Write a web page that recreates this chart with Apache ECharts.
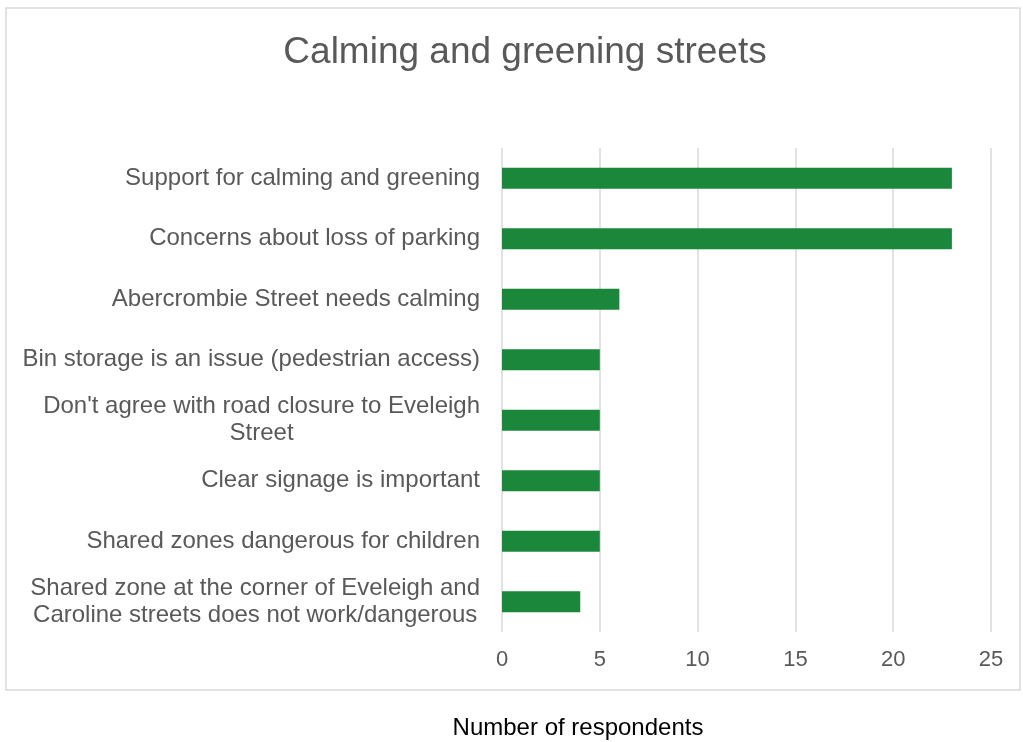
<!DOCTYPE html>
<html>
<head>
<meta charset="utf-8">
<script src="https://cdn.jsdelivr.net/npm/echarts@6/dist/echarts.min.js"></script>
<style>html,body{margin:0;padding:0;background:#fff;}#c{width:1023px;height:742px;}</style>
</head>
<body>
<div id="c"></div>
<script>
const categories = [
  "Support for calming and greening",
  "Concerns about loss of parking",
  "Abercrombie Street needs calming",
  "Bin storage is an issue (pedestrian access)",
  "Don't agree with road closure to Eveleigh Street",
  "Clear signage is important",
  "Shared zones dangerous for children",
  "Shared zone at the corner of Eveleigh and Caroline streets does not work/dangerous"
];
const values = [23, 23, 6, 5, 5, 5, 5, 4];
const xTicks = [0, 5, 10, 15, 20, 25];
const titleText = "Calming and greening streets";
const axisTitle = "Number of respondents";

const font = "'Liberation Sans', Arial, sans-serif";
const labelSize = 24;
const labelWidth = 466;
const ctx = document.createElement('canvas').getContext('2d');
ctx.font = labelSize + "px " + font;
function wrap(text) {
  const words = text.split(' ');
  const lines = [];
  let cur = '';
  for (const w of words) {
    const t = cur ? cur + ' ' + w : w;
    if (cur && ctx.measureText(t).width > labelWidth) { lines.push(cur); cur = w; }
    else cur = t;
  }
  if (cur) lines.push(cur);
  return lines.map(l => '{c|' + l + '}').join('\n');
}

const chart = echarts.init(document.getElementById('c'));
chart.setOption({
  backgroundColor: '#fff',
  animation: false,
  title: {
    text: titleText, left: 520, top: 29, textAlign: 'center',
    textStyle: {fontFamily: font, fontSize: 37, fontWeight: 'normal', color: '#595959'}
  },
  graphic: [
    {type: 'rect', shape: {x: 6, y: 8, width: 1014, height: 682}, style: {fill: 'none', stroke: '#d9d9d9', lineWidth: 1.5}, z: -1},
    {type: 'text', x: 578, y: 728, style: {text: axisTitle, fontFamily: font, fontSize: 24, fill: '#000', align: 'center', verticalAlign: 'middle'}}
  ],
  grid: {left: 502, right: 32, top: 148, bottom: 110, containLabel: false},
  xAxis: {
    type: 'value', min: xTicks[0], max: xTicks[xTicks.length - 1], interval: 5,
    axisLine: {show: false}, axisTick: {show: false},
    splitLine: {show: true, lineStyle: {color: '#d9d9d9', width: 1.5}},
    axisLabel: {fontFamily: font, fontSize: 22, color: '#595959', margin: 17}
  },
  yAxis: {
    type: 'category', data: categories, inverse: true,
    axisLine: {show: false}, axisTick: {show: false},
    axisLabel: {
      fontFamily: font, fontSize: labelSize, color: '#595959', margin: 22, lineHeight: 27, formatter: wrap,
      rich: {c: {fontFamily: font, fontSize: labelSize, color: '#595959', lineHeight: 27, align: 'center'}}
    }
  },
  series: [{
    type: 'bar', data: values, barWidth: 21,
    itemStyle: {color: '#1b873a'}
  }]
});
</script>
</body>
</html>
